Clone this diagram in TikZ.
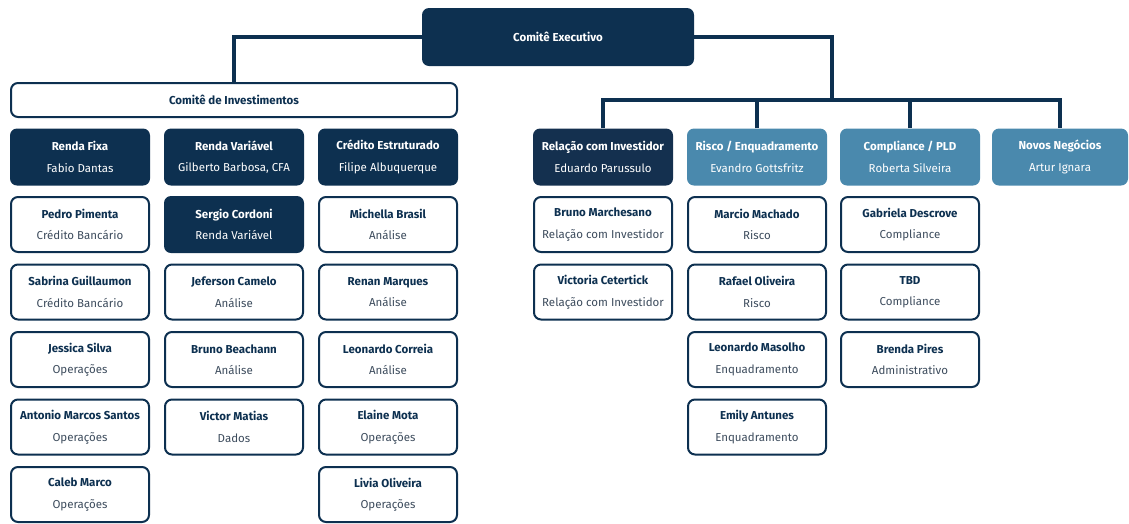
\documentclass[tikz,border=0pt]{standalone}
\usepackage{fontspec}
\setmainfont{Fira Sans}
\usepackage{xcolor}
\definecolor{navy}{HTML}{0D3050}
\definecolor{navyri}{HTML}{14304F}
\definecolor{steel}{HTML}{4A89AD}
\definecolor{subgray}{HTML}{3D4C5D}

\newcommand{\pers}[2]{\textbf{#1}\\[8.5pt]#2}
\newcommand{\persw}[2]{\textbf{#1}\\[8.5pt]{\color{subgray}#2}}

\begin{document}
\begin{tikzpicture}[x=1pt,y=1pt,node distance=67.5pt,
         card/.style={rounded corners=7pt,minimum width=140pt,minimum height=57pt,
                      align=center,inner sep=0pt,font=\fontsize{11.5}{13}\selectfont},
         darkcard/.style={card,fill=navy,text=white},
         lightcard/.style={card,fill=steel,text=white},
         whitecard/.style={card,draw=navy,line width=2pt,fill=white,text=navy,
                           minimum width=138pt,minimum height=55pt},
         link/.style={draw=navy,line width=3.2pt}]
         \useasboundingbox (0,0) rectangle (1129,-523);

         \node[darkcard,name=top,minimum width=272pt,minimum height=58pt] at (558,-37) {\textbf{Comitê Executivo}};
         \node[whitecard,name=ci,minimum width=446pt,minimum height=34pt] at (234,-100) {\textbf{Comitê de Investimentos}};
         \coordinate (bus) at (832,-100);

         \node[darkcard,name=rf] at (80,-157) {\pers{Renda Fixa}{Fabio Dantas}};
         \node[darkcard,name=rv,right of=rf,node distance=154pt] {\pers{Renda Variável}{Gilberto Barbosa, CFA}};
         \node[darkcard,name=ce,right of=rv,node distance=154pt] {\pers{Crédito Estruturado}{Filipe Albuquerque}};

         \node[whitecard,name=rf1,below of=rf] {\persw{Pedro Pimenta}{Crédito Bancário}};
         \node[whitecard,name=rf2,below of=rf1] {\persw{Sabrina Guillaumon}{Crédito Bancário}};
         \node[whitecard,name=rf3,below of=rf2] {\persw{Jessica Silva}{Operações}};
         \node[whitecard,name=rf4,below of=rf3] {\persw{Antonio Marcos Santos}{Operações}};
         \node[whitecard,name=rf5,below of=rf4] {\persw{Caleb Marco}{Operações}};

         \node[darkcard,name=rv1,below of=rv] {\pers{Sergio Cordoni}{Renda Variável}};
         \node[whitecard,name=rv2,below of=rv1] {\persw{Jeferson Camelo}{Análise}};
         \node[whitecard,name=rv3,below of=rv2] {\persw{Bruno Beachann}{Análise}};
         \node[whitecard,name=rv4,below of=rv3] {\persw{Victor Matias}{Dados}};

         \node[whitecard,name=ce1,below of=ce] {\persw{Michella Brasil}{Análise}};
         \node[whitecard,name=ce2,below of=ce1] {\persw{Renan Marques}{Análise}};
         \node[whitecard,name=ce3,below of=ce2] {\persw{Leonardo Correia}{Análise}};
         \node[whitecard,name=ce4,below of=ce3] {\persw{Elaine Mota}{Operações}};
         \node[whitecard,name=ce5,below of=ce4] {\persw{Livia Oliveira}{Operações}};

         \node[darkcard,name=ri,fill=navyri] at (603,-157) {\pers{Relação com Investidor}{Eduardo Parussulo}};
         \node[lightcard,name=re,right of=ri,node distance=154pt] {\pers{Risco / Enquadramento}{Evandro Gottsfritz}};
         \node[lightcard,name=cp,right of=re,node distance=153pt] {\pers{Compliance / PLD}{Roberta Silveira}};
         \node[lightcard,name=nn,right of=cp,node distance=150pt,minimum width=136pt] {\pers{Novos Negócios}{Artur Ignara}};

         \node[whitecard,name=ri1,below of=ri] {\persw{Bruno Marchesano}{Relação com Investidor}};
         \node[whitecard,name=ri2,below of=ri1] {\persw{Victoria Cetertick}{Relação com Investidor}};

         \node[whitecard,name=re1,below of=re] {\persw{Marcio Machado}{Risco}};
         \node[whitecard,name=re2,below of=re1] {\persw{Rafael Oliveira}{Risco}};
         \node[whitecard,name=re3,below of=re2] {\persw{Leonardo Masolho}{Enquadramento}};
         \node[whitecard,name=re4,below of=re3] {\persw{Emily Antunes}{Enquadramento}};

         \node[whitecard,name=cp1,below of=cp] {\persw{Gabriela Descrove}{Compliance}};
         \node[whitecard,name=cp2,below of=cp1] {\persw{TBD}{Compliance}};
         \node[whitecard,name=cp3,below of=cp2] {\persw{Brenda Pires}{Administrativo}};

         \draw[link] (top.west) -| (ci.north);
         \draw[link] (top.east) -| (bus);
         \draw[link] (ri.north) |- (bus) -| (nn.north);
         \path[link]
            (re.north) edge (re.north |- bus)
            (cp.north) edge (cp.north |- bus);
\end{tikzpicture}
\end{document}
